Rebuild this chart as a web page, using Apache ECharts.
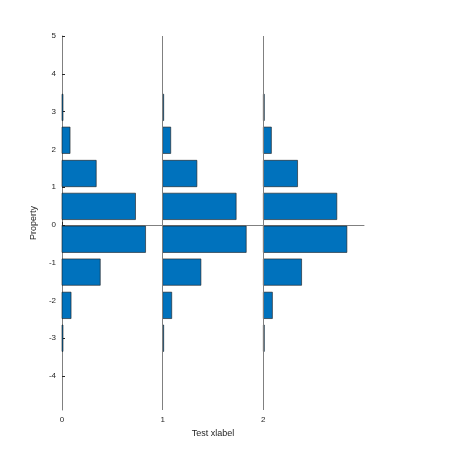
<!DOCTYPE html><html><head><meta charset="utf-8"><script src="https://cdn.jsdelivr.net/npm/echarts@6/dist/echarts.min.js"></script></head><body style="margin:0"><div id="c" style="width:474px;height:462px"></div><script>
const groups=[0,1,2];
const binCenters=[-3.0,-2.13,-1.25,-0.38,0.49,1.36,2.24,3.11];
const widths=[0.01,0.09,0.38,0.83,0.73,0.34,0.08,0.01];
const binWidth=0.873;
const yTicks=[-4,-3,-2,-1,0,1,2,3,4,5];
const xTicks=[0,1,2];
const data=[];
groups.forEach(g=>binCenters.forEach((c,i)=>data.push([g,c,widths[i]])));
const chart=echarts.init(document.getElementById('c'));
const ax={color:'#262626',fontSize:8,fontFamily:'Liberation Sans'};
chart.setOption({animation:false,
grid:{left:62,right:110,top:36,bottom:52},
xAxis:{type:'value',min:0,max:3,name:'Test xlabel',nameLocation:'middle',nameGap:14,nameTextStyle:{color:'#262626',fontSize:9,fontFamily:'Liberation Sans'},
 axisLine:{lineStyle:{color:'#808080'}},splitLine:{show:false},
 axisTick:{inside:true,length:3,customValues:xTicks,lineStyle:{color:'#262626'}},axisLabel:Object.assign({customValues:xTicks,margin:6},ax)},
yAxis:{type:'value',min:-4.9,max:5,name:'Property',nameLocation:'middle',nameGap:14,nameTextStyle:{color:'#262626',fontSize:9,fontFamily:'Liberation Sans'},
 axisLine:{show:true,lineStyle:{color:'#808080'}},splitLine:{show:false},
 axisTick:{show:true,inside:true,length:3,customValues:yTicks,lineStyle:{color:'#262626'}},axisLabel:Object.assign({customValues:yTicks,margin:6},ax)},
series:[{type:'custom',data:data,renderItem:function(p,api){
 const g=api.value(0),c=api.value(1),w=api.value(2);
 const a=api.coord([g,c+binWidth*0.4]),b=api.coord([g+w,c-binWidth*0.4]);
 return {type:'rect',shape:{x:a[0],y:a[1],width:Math.max(b[0]-a[0],1),height:b[1]-a[1]},style:{fill:'#0072BD',stroke:'#1a1a1a',lineWidth:0.6}};
}},
{type:'line',data:[],markLine:{silent:true,symbol:'none',label:{show:false},lineStyle:{color:'#808080',type:'solid',width:1},data:[{xAxis:1},{xAxis:2}]}}]
});
</script></body></html>
